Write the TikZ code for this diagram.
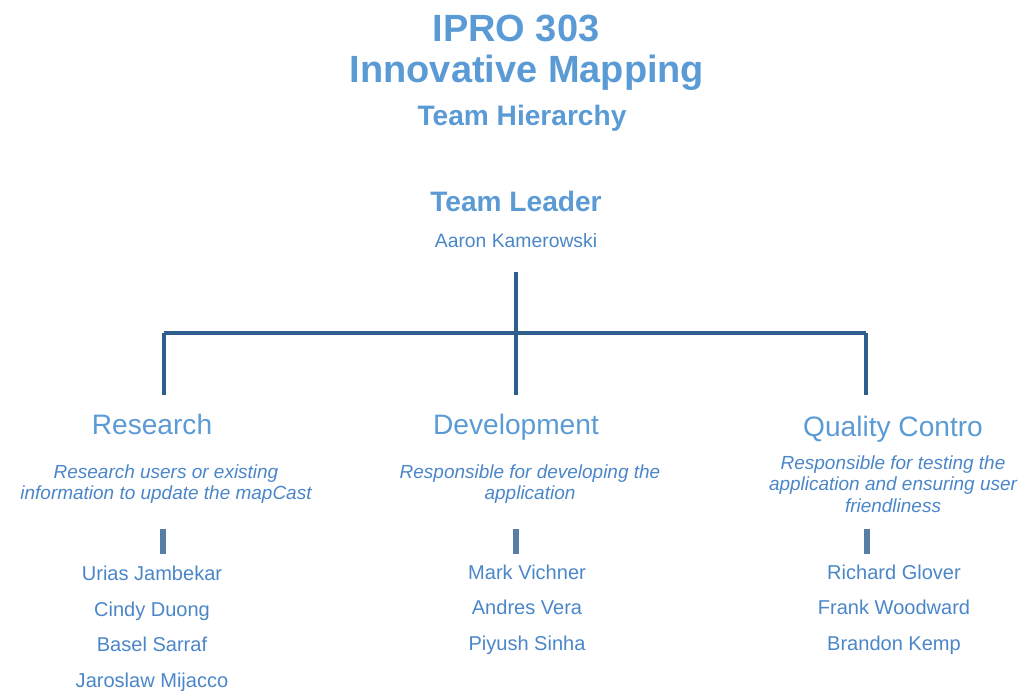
\documentclass[tikz,border=0pt]{standalone}
\usepackage{fontspec}
\setmainfont{Liberation Sans}
\usepackage{tikz}
\usetikzlibrary{positioning}

\definecolor{titleblue}{HTML}{5B9BD5}
\definecolor{textblue}{HTML}{4A86C8}
\definecolor{linkblue}{HTML}{2E5E8E}

\begin{document}
\begin{tikzpicture}[
	    every node/.style={inner sep=0pt, anchor=base, text=titleblue},
	    title/.style={font=\bfseries\fontsize{10.8}{12}\selectfont},
	    subtitle/.style={font=\bfseries\fontsize{8}{9.6}\selectfont},
	    head/.style={font=\fontsize{8}{9.6}\selectfont},
	    who/.style={text=textblue, font=\fontsize{5.5}{6.6}\selectfont},
	    desc/.style={align=center, text=textblue, font=\itshape\fontsize{5.4}{6.1}\selectfont},
	    crew/.style={align=center, text=textblue, font=\fontsize{5.7}{10.1}\selectfont},
	    bar/.style={draw=linkblue, line width=0.9pt},
	    tick/.style={draw=linkblue!80, line width=1.5pt}
	]
		\useasboundingbox (0,0) rectangle (10.26,-6.91);

		% title block
		\node[title] (ipro) at (5.16,-0.42) {IPRO 303};
		\node[title] (proj) at (5.27,-0.83) {Innovative Mapping};
		\node[subtitle] (hier) at (5.22,-1.26) {Team Hierarchy};

		% leader
		\node[subtitle] (lead) at (5.16,-2.12) {Team Leader};
		\node[who] (leadname) at (5.16,-2.48) {Aaron Kamerowski};

		% teams (multi-line nodes sit on their last baseline)
		\node[head] (res) at (1.52,-4.35) {Research};
		\node[head] (dev) at (5.16,-4.35) {Development};
		\node[head] (qc)  at (8.93,-4.37) {Quality Contro};

		\node[desc] (resdesc) at (1.66,-5.00) {Research users or existing\\information to update the mapCast};
		\node[desc] (devdesc) at (5.30,-5.00) {Responsible for developing the\\application};
		\node[desc] (qcdesc)  at (8.93,-5.12) {Responsible for testing the\\application and ensuring user\\friendliness};

		\node[crew] (rescrew) at (1.52,-6.87) {Urias Jambekar\\Cindy Duong\\Basel Sarraf\\Jaroslaw Mijacco};
		\node[crew] (devcrew) at (5.27,-6.50) {Mark Vichner\\Andres Vera\\Piyush Sinha};
		\node[crew] (qccrew)  at (8.94,-6.50) {Richard Glover\\Frank Woodward\\Brandon Kemp};

		% tree lines
		\coordinate (top)  at (5.16,-2.72);
		\coordinate (busL) at (1.64,-3.33);
		\coordinate (busM) at (5.16,-3.33);
		\coordinate (busR) at (8.66,-3.33);
		\coordinate (dropL) at (1.64,-3.95);
		\coordinate (dropM) at (5.16,-3.95);
		\coordinate (dropR) at (8.66,-3.95);

		\draw[bar] (top) -- (busM);
		\draw[bar] (busL) -- (busR);
		\draw[bar] (busL) -- (dropL);
		\draw[bar] (busM) -- (dropM);
		\draw[bar] (busR) -- (dropR);

		% short bars above the names
		\foreach \n/\x in {L/1.63, M/5.16, R/8.67} {
			\coordinate (tick\n a) at (\x,-5.29);
			\coordinate (tick\n b) at (\x,-5.54);
			\draw[tick] (tick\n a) -- (tick\n b);
		}
	\end{tikzpicture}
\end{document}
